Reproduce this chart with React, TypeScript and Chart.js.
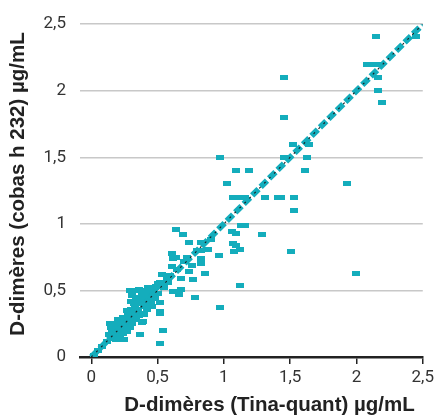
import React, { useEffect, useRef } from "react";
import { Chart, registerables } from "chart.js";

Chart.register(...registerables);

const TEAL = "#14adbc";

const tickValues = [0, 0.5, 1, 1.5, 2, 2.5];
const tickLabels = ["0", "0,5", "1", "1,5", "2", "2,5"];

const xTitle = "D-dimères (Tina-quant) µg/mL";
const yTitle = "D-dimères (cobas h 232) µg/mL";

// Tina-quant values (x)
const tinaQuant = [
  0.02, 0.05, 0.08, 0.12, 0.14, 0.14, 0.13, 0.16, 0.17, 0.19, 0.19, 0.2, 0.21, 0.22, 0.23, 0.24,
  0.25, 0.25, 0.26, 0.26, 0.27, 0.28, 0.28, 0.29, 0.29, 0.3, 0.3, 0.31, 0.32, 0.32, 0.33, 0.33,
  0.33, 0.34, 0.35, 0.35, 0.36, 0.36, 0.37, 0.37, 0.38, 0.38, 0.38, 0.39, 0.39, 0.4, 0.4, 0.41,
  0.42, 0.42, 0.43, 0.44, 0.45, 0.46, 0.46, 0.47, 0.48, 0.49, 0.5, 0.5, 0.52, 0.52, 0.52, 0.52,
  0.54, 0.52, 0.53, 0.55, 0.57, 0.58, 0.59,
  0.15, 0.18, 0.2, 0.22, 0.24, 0.27, 0.3, 0.31, 0.34, 0.36, 0.4, 0.41, 0.44, 0.45, 0.48, 0.43,
  0.23, 0.17,
  0.61, 0.61, 0.62, 0.62, 0.64, 0.64, 0.65, 0.66, 0.68, 0.68, 0.69, 0.7, 0.72, 0.74, 0.74, 0.756,
  0.77, 0.78, 0.8, 0.83, 0.83, 0.83, 0.83, 0.86, 0.88, 0.9, 0.96, 0.97, 0.97, 1.02, 1.06, 1.09,
  1.07, 1.09, 1.08, 1.12, 1.13, 1.16, 1.12, 1.29, 1.51, 2.0,
  1.09, 1.19, 1.61, 1.07, 1.13, 1.16, 1.31, 1.41, 1.43, 1.53, 1.53, 1.45, 1.47, 1.63, 1.52, 1.64,
  1.45, 1.45, 1.93, 2.16, 2.16, 2.19, 2.08, 2.13, 2.17, 2.15, 2.45,
];

// cobas h 232 values (y)
const cobas = [
  0.01, 0.05, 0.08, 0.12, 0.25, 0.17, 0.17, 0.2, 0.14, 0.13, 0.22, 0.17, 0.25, 0.2, 0.28, 0.18,
  0.13, 0.22, 0.3, 0.25, 0.19, 0.33, 0.27, 0.22, 0.5, 0.36, 0.3, 0.25, 0.4, 0.33, 0.42, 0.375,
  0.28, 0.45, 0.36, 0.5, 0.51, 0.31, 0.17, 0.44, 0.26, 0.33, 0.47, 0.41, 0.27, 0.38, 0.5, 0.44,
  0.36, 0.48, 0.52, 0.41, 0.46, 0.52, 0.38, 0.5, 0.44, 0.53, 0.48, 0.55, 0.56, 0.41, 0.33, 0.34,
  0.2, 0.1, 0.62, 0.52, 0.58, 0.56, 0.61,
  0.22, 0.25, 0.28, 0.15, 0.3, 0.35, 0.42, 0.46, 0.3, 0.4, 0.32, 0.5, 0.48, 0.42, 0.52, 0.45,
  0.23, 0.18,
  0.78, 0.68, 0.49, 0.74, 0.96, 0.75, 0.66, 0.47, 0.59, 0.51, 0.92, 0.72, 0.75, 0.86, 0.64, 0.69,
  0.585, 0.45, 0.8, 0.86, 0.8, 0.74, 0.7, 0.63, 0.81, 0.88, 0.76, 0.37, 1.5, 1.3, 0.94, 0.93,
  0.855, 0.84, 0.79, 0.81, 0.99, 0.99, 0.535, 0.92, 0.79, 0.63,
  1.4, 1.4, 1.4, 1.2, 1.2, 1.2, 1.2, 1.2, 1.2, 1.2, 1.1, 1.5, 1.5, 1.5, 1.6, 1.6,
  1.8, 2.1, 1.3, 2.1, 2.0, 1.91, 2.2, 2.2, 2.2, 2.41, 2.41,
];

// identity / regression line endpoints
const lineX = [0, 2.5];
const lineY = [0, 2.5];

const TITLE_FONT = "bold 20.5px 'Liberation Sans', Arial, sans-serif";

const axisTitles = {
  id: "axisTitles",
  afterDraw(chart: any) {
    const { ctx, chartArea } = chart;
    ctx.save();
    ctx.font = TITLE_FONT;
    ctx.fillStyle = "#222222";
    ctx.textBaseline = "middle";
    ctx.textAlign = "right";
    ctx.fillText(xTitle, chartArea.right - 8, chart.height - 12);
    ctx.translate(18, chartArea.top + 8);
    ctx.rotate(-Math.PI / 2);
    ctx.textAlign = "right";
    ctx.fillText(yTitle, 0, 0);
    ctx.restore();
  },
};

export default function App() {
  const ref = useRef<HTMLCanvasElement | null>(null);

  useEffect(() => {
    if (!ref.current) return;
    const marker = document.createElement("canvas");
    marker.width = 8;
    marker.height = 5;
    const mctx = marker.getContext("2d")!;
    mctx.fillStyle = TEAL;
    mctx.fillRect(0, 0, 8, 5);

    const points = tinaQuant.map((x, i) => ({ x, y: cobas[i] }));
    const line = lineX.map((x, i) => ({ x, y: lineY[i] }));

    const chart = new Chart(ref.current, {
      type: "scatter",
      data: {
        datasets: [
          {
            data: line,
            showLine: true,
            borderColor: "#1a1a1a",
            borderWidth: 1.1,
            borderDash: [2, 5],
            pointRadius: 0,
            order: 0,
          },
          {
            data: line,
            showLine: true,
            borderColor: TEAL,
            borderWidth: 6,
            borderDash: [9, 3],
            pointRadius: 0,
            order: 1,
          },
          {
            data: points,
            pointStyle: marker as any,
            pointRadius: 4,
            order: 2,
          },
        ],
      },
      plugins: [axisTitles],
      options: {
        animation: false,
        responsive: true,
        maintainAspectRatio: false,
        layout: { padding: { top: 19, right: 14, left: 0, bottom: 0 } },
        plugins: { legend: { display: false }, tooltip: { enabled: false } },
        scales: {
          x: {
            type: "linear",
            min: -0.085,
            max: 2.5,
            afterBuildTicks: (s: any) => {
              s.ticks = tickValues.map((v) => ({ value: v }));
            },
            afterFit: (s: any) => {
              s.height = 60;
            },
            border: { display: true, color: "#222222", width: 2.5 },
            grid: {
              drawOnChartArea: false,
              drawTicks: true,
              tickLength: 7,
              color: "#222222",
              lineWidth: 1.5,
            },
            ticks: {
              autoSkip: false,
              maxRotation: 0,
              color: "#333333",
              padding: 4,
              font: { family: "Roboto", size: 17 },
              callback: (v: any) => {
                const i = tickValues.indexOf(Number(v));
                return i >= 0 ? tickLabels[i] : "";
              },
            },
          },
          y: {
            type: "linear",
            min: 0,
            max: 2.5,
            afterBuildTicks: (s: any) => {
              s.ticks = tickValues.map((v) => ({ value: v }));
            },
            afterFit: (s: any) => {
              s.width = 80;
            },
            border: { display: false },
            grid: {
              drawTicks: false,
              color: "#c8c8c8",
              lineWidth: 1.5,
            },
            ticks: {
              autoSkip: false,
              color: "#333333",
              padding: 14,
              font: { family: "Roboto", size: 17 },
              callback: (v: any) => {
                const i = tickValues.indexOf(Number(v));
                return i >= 0 ? tickLabels[i] : "";
              },
            },
          },
        },
      },
    });
    return () => chart.destroy();
  }, []);

  return (
    <div style={{ position: "absolute", left: 0, top: 0, width: 438, height: 417 }}>
      <canvas ref={ref} />
    </div>
  );
}
